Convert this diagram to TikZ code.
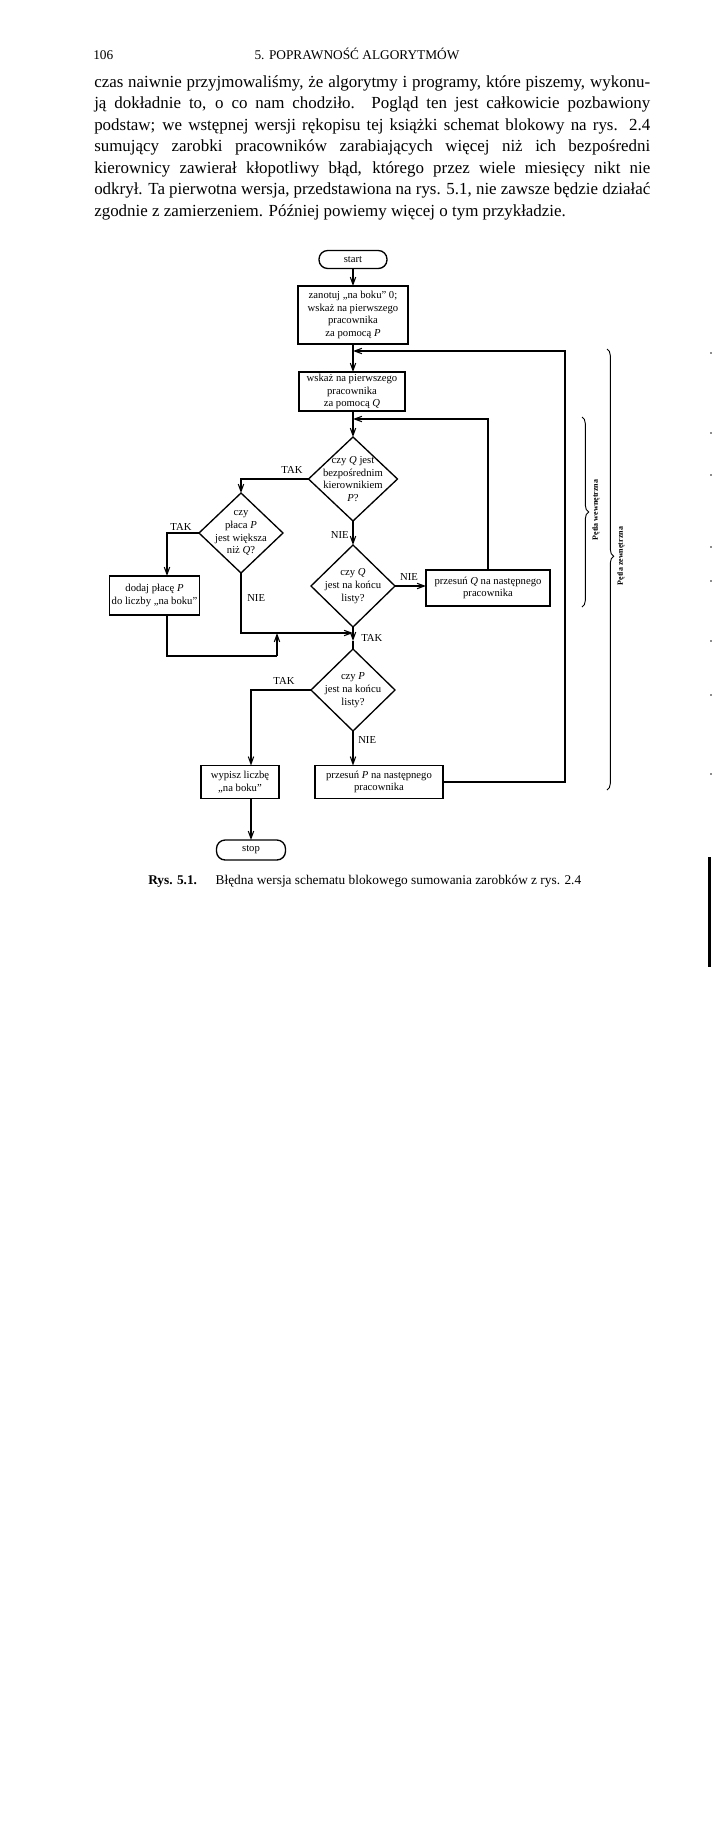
\documentclass[tikz,border=0pt]{standalone}
\usepackage{fontspec}
\setmainfont{Liberation Serif}
\usetikzlibrary{shapes.geometric,arrows.meta,decorations.pathreplacing}
\newcommand{\jl}[1]{\hbox to 417pt{#1}}
\begin{document}
\begin{tikzpicture}[x=0.75pt,y=-0.75pt,
  sz/.style 2 args={minimum width=#1*0.75pt, minimum height=#2*0.75pt},
  fc/.style={font=\fontsize{8}{9.6}\selectfont},
  box/.style={draw, line width=1.1pt, rectangle, inner sep=0pt, outer sep=0pt, align=center, fc},
  term/.style={draw, line width=1pt, rectangle, rounded corners=6.5pt, inner sep=0pt, outer sep=0pt, fc},
  dia/.style={draw, diamond, line width=1pt, inner sep=0pt, outer sep=0pt},
  dt/.style={align=center, fc, inner sep=0pt},
  lab/.style={font=\fontsize{8}{9}\selectfont, inner sep=0pt},
  body/.style={font=\fontsize{12.7}{16}\selectfont, inner sep=0pt, anchor=base west},
  conn/.style={line width=0.8pt},
  arr/.style={conn, -{Straight Barb[length=5.5pt,width=4pt]}},
  brc/.style={decorate, decoration={brace, amplitude=5pt, aspect=#1}, line width=0.7pt},
  blab/.style={font=\bfseries\fontsize{6}{7}\selectfont, inner sep=0pt, rotate=90},
  speck/.style={fill=black!45}
]
\fill[white] (0,0) rectangle (713,1836);
\useasboundingbox (0,0) rectangle (713,1836);

% header
\node[anchor=base west, inner sep=0pt, font=\fontsize{10}{11}\selectfont] (pg) at (93,59) {106};
\node[anchor=base, inner sep=0pt, font=\fontsize{10}{11}\selectfont] (hd) at (357,59) {5. POPRAWNOŚĆ ALGORYTMÓW};

% paragraph
\node[body] (p1) at (94,87) {\jl{czas naiwnie przyjmowaliśmy, że algorytmy i programy, które piszemy, wykonu-}};
\node[body] (p2) at (94,108.5) {\jl{ją dokładnie to, o co nam chodziło. Pogląd ten jest całkowicie pozbawiony}};
\node[body] (p3) at (94,130) {\jl{podstaw; we wstępnej wersji rękopisu tej książki schemat blokowy na rys. 2.4}};
\node[body] (p4) at (94,151.5) {\jl{sumujący zarobki pracowników zarabiających więcej niż ich bezpośredni}};
\node[body] (p5) at (94,173) {\jl{kierownicy zawierał kłopotliwy błąd, którego przez wiele miesięcy nikt nie}};
\node[body] (p6) at (94,194.5) {\jl{odkrył. Ta pierwotna wersja, przedstawiona na rys. 5.1, nie zawsze będzie działać}};
\node[body] (p7) at (94,216) {zgodnie z zamierzeniem. Później powiemy więcej o tym przykładzie.};

% flowchart nodes
\node[term, sz={68}{18}] (start) at (353,259.5) {start};
\node[box, sz={110}{58}] (b1) at (353,315) {zanotuj „na boku” 0;\\ wskaż na pierwszego\\ pracownika\\ za pomocą \textit{P}};
\node[box, sz={106}{39}] (b2) at (352,391.5) {wskaż na pierwszego\\ pracownika\\ za pomocą \textit{Q}};
\node[dia, sz={89}{84}] (d1) at (353,479) {};
\node[dt] (d1t) at (d1) {czy \textit{Q} jest\\ bezpośrednim\\ kierownikiem\\ \textit{P}?};
\node[dia, sz={84}{80}] (d2) at (241,533) {};
\node[dt] (d2t) at (d2) {czy\\ płaca \textit{P}\\ jest większa\\ niż \textit{Q}?};
\node[box, sz={90}{39}] (b3) at (154.5,595.5) {dodaj płacę \textit{P}\\ do liczby „na boku”};
\node[dia, sz={84}{82}] (d3) at (353,586) {};
\node[dt] (d3t) at (d3) {czy \textit{Q}\\ jest na końcu\\ listy?};
\node[box, sz={124}{36}] (b4) at (488,588) {przesuń \textit{Q} na następnego\\ pracownika};
\node[dia, sz={84}{82}] (d4) at (353,690) {};
\node[dt] (d4t) at (d4) {czy \textit{P}\\ jest na końcu\\ listy?};
\node[box, sz={128}{33}] (b5) at (379,782) {przesuń \textit{P} na następnego\\ pracownika};
\node[box, sz={78}{33}] (b6) at (240,782) {wypisz liczbę\\ „na boku”};
\node[term, sz={69}{20}] (stop) at (251,850) {stop};

% helper coordinates
\coordinate (oc) at (565,351);
\coordinate (ic) at (488,419);
\coordinate (b3in) at (167,576);
\coordinate (b3out) at (167,615);
\coordinate (lb) at (277,656);
\coordinate (j) at (353,633);
\coordinate (jd) at (353,641);
\coordinate (c6) at (251,765.5);
\coordinate (c6b) at (251,798.5);

% connectors
\draw[arr] (start) -- (b1);
\draw[arr] (b1) -- (b1.south |- b2.north);
\draw[arr] (b1.south |- b2.south) -- (d1);
\draw[arr] (d1.west) -| (d2.north);
\draw[arr] (d2.west) -| (b3in);
\draw[conn] (b3out) |- (lb);
\draw[arr] (lb) -- (lb |- j);
\draw[arr] (d2.south) |- (j);
\draw[arr] (d1) -- (d3);
\draw[arr] (d3.east) -- (d3.east -| b4.west);
\draw[arr] (b4.north) -- (ic) -- (ic -| d1.north);
\draw[arr] (d3.south) -- (jd);
\draw[conn] (jd) -- (d4.north);
\draw[arr] (d4) -- (d4.south |- b5.north);
\draw[arr] (d4.west) -| (c6);
\draw[arr] (c6b) -- (stop);
\draw[arr] (b5.east) -| (oc) -- (oc -| b1.south);

% labels
\node[lab] (t1) at (292,470) {TAK};
\node[lab] (t2) at (181,527) {TAK};
\node[lab, anchor=west] (n2) at (247,598) {NIE};
\node[lab, anchor=east] (n1) at (349,535) {NIE};
\node[lab] (n3) at (409,577) {NIE};
\node[lab, anchor=west] (t3) at (361,638) {TAK};
\node[lab] (t4) at (284,681) {TAK};
\node[lab, anchor=west] (n4) at (358,740) {NIE};

% braces
\draw[brc=0.5] (582,417) -- (582,607);
\node[blab] (lin) at (596,510) {Pętla wewnętrzna};
\draw[brc=0.47] (607,349) -- (607,790);
\node[blab] (lout) at (621,556) {Pętla zewnętrzna};

% caption
\node[anchor=base west, inner sep=0pt, font=\fontsize{10}{12}\selectfont] (cap) at (148,884) {\textbf{Rys. 5.1.}\hspace{14pt}Błędna wersja schematu blokowego sumowania zarobków z rys. 2.4};

% scan marks at the right edge
\fill (708,857) rectangle (711,967);
\fill[speck] (710,352) rectangle (711.5,354);
\fill[speck] (710,432) rectangle (711.5,434);
\fill[speck] (710,474) rectangle (711.5,476);
\fill[speck] (710,546) rectangle (711.5,548);
\fill[speck] (710,580) rectangle (711.5,582);
\fill[speck] (710,640) rectangle (711.5,642);
\fill[speck] (710,694) rectangle (711.5,696);
\fill[speck] (710,773) rectangle (711.5,775);
\end{tikzpicture}
\end{document}
